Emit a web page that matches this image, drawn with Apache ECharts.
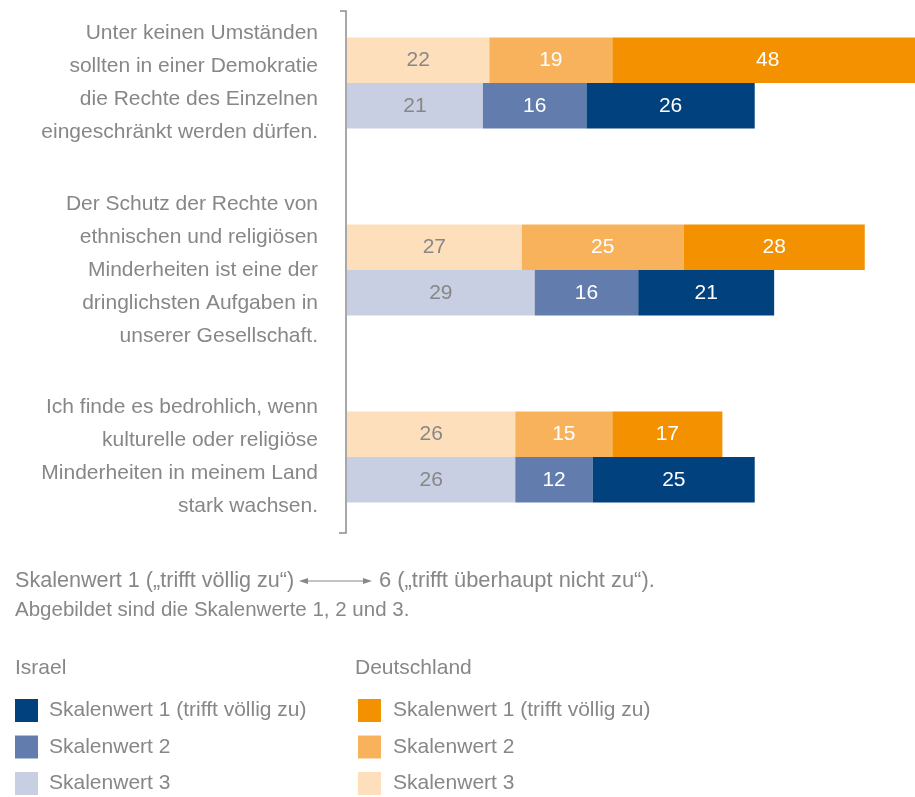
<!DOCTYPE html>
<html>
<head>
<meta charset="utf-8">
<script src="https://cdn.jsdelivr.net/npm/echarts@6/dist/echarts.min.js"></script>
<style>
  html, body { margin: 0; padding: 0; background: #fff; }
  #main { width: 915px; height: 797px; }
</style>
</head>
<body>
<div id="main"></div>
<script>
// statements (top to bottom)
const categories = [
  "Unter keinen Umständen\nsollten in einer Demokratie\ndie Rechte des Einzelnen\neingeschränkt werden dürfen.",
  "Der Schutz der Rechte von\nethnischen und religiösen\nMinderheiten ist eine der\ndringlichsten Aufgaben in\nunserer Gesellschaft.",
  "Ich finde es bedrohlich, wenn\nkulturelle oder religiöse\nMinderheiten in meinem Land\nstark wachsen."
];

// Deutschland
const deSkala1 = [48, 28, 17];
const deSkala2 = [19, 25, 15];
const deSkala3 = [22, 27, 26];
// Israel
const ilSkala1 = [26, 21, 25];
const ilSkala2 = [16, 16, 12];
const ilSkala3 = [21, 29, 26];

const skalaNames = ["Skalenwert 1 (trifft völlig zu)", "Skalenwert 2", "Skalenwert 3"];

const gray = "#878787";
const font = "Liberation Sans";

const deColors = ["#F39100", "#F8B25C", "#FDDFBC"];
const ilColors = ["#00417E", "#627CAE", "#C9CFE3"];

function makeSeries(country, stack, values, idx, colors) {
  return {
    name: country + ": " + skalaNames[idx],
    type: "bar",
    stack: stack,
    barWidth: 45.5,
    barGap: "0%",
    itemStyle: { color: colors[idx] },
    label: {
      show: true,
      position: "inside",
      color: idx === 2 ? gray : "#ffffff",
      fontFamily: font,
      fontSize: 21
    },
    emphasis: { disabled: true },
    data: values
  };
}

var myChart = echarts.init(document.getElementById("main"));

let option = {
  animation: false,
  grid: { left: 347, right: -8, top: -10.5, height: 561, outerBoundsMode: "none" },
  xAxis: {
    type: "value",
    min: 0,
    max: 89,
    show: false
  },
  yAxis: {
    type: "category",
    inverse: true,
    data: categories,
    axisLine: { show: false },
    axisTick: { show: false },
    axisLabel: {
      margin: 29,
      align: "right",
      color: gray,
      fontFamily: font,
      fontSize: 21,
      lineHeight: 33
    }
  },
  legend: [
    {
      orient: "vertical",
      left: 15,
      top: 699,
      padding: 0,
      itemWidth: 23,
      itemHeight: 23,
      itemGap: 13.5,
      icon: "rect",
      selectedMode: false,
      data: skalaNames.map(n => "Israel: " + n),
      formatter: n => n.split(": ")[1],
      textStyle: { color: gray, fontFamily: font, fontSize: 21, padding: [0, 0, 0, 6] }
    },
    {
      orient: "vertical",
      left: 358,
      top: 699,
      padding: 0,
      itemWidth: 23,
      itemHeight: 23,
      itemGap: 13.5,
      icon: "rect",
      selectedMode: false,
      data: skalaNames.map(n => "Deutschland: " + n),
      formatter: n => n.split(": ")[1],
      textStyle: { color: gray, fontFamily: font, fontSize: 21, padding: [0, 0, 0, 7] }
    }
  ],
  series: [
    makeSeries("Deutschland", "de", deSkala3, 2, deColors),
    makeSeries("Deutschland", "de", deSkala2, 1, deColors),
    makeSeries("Deutschland", "de", deSkala1, 0, deColors),
    makeSeries("Israel", "il", ilSkala3, 2, ilColors),
    makeSeries("Israel", "il", ilSkala2, 1, ilColors),
    makeSeries("Israel", "il", ilSkala1, 0, ilColors)
  ],
  graphic: [
    // axis bracket
    {
      type: "polyline",
      shape: { points: [[340, 11], [346, 11], [346, 533], [339, 533]] },
      style: { stroke: "#8c8c8c", lineWidth: 1.5, fill: null }
    },
    // footnote
    {
      type: "text", left: 15, top: 570,
      style: { text: "Skalenwert 1 (\u201Etrifft völlig zu\u201C)", fill: gray, font: "21.6px '" + font + "'" }
    },
    {
      type: "line",
      shape: { x1: 304, y1: 581, x2: 368, y2: 581 },
      style: { stroke: gray, lineWidth: 1 }
    },
    {
      type: "polygon",
      shape: { points: [[299, 581], [308, 578], [308, 584]] },
      style: { fill: gray }
    },
    {
      type: "polygon",
      shape: { points: [[372, 581], [363, 578], [363, 584]] },
      style: { fill: gray }
    },
    {
      type: "text", left: 379, top: 570,
      style: { text: "6 (\u201Etrifft überhaupt nicht zu\u201C).", fill: gray, font: "21.9px '" + font + "'" }
    },
    {
      type: "text", left: 15, top: 600,
      style: { text: "Abgebildet sind die Skalenwerte 1, 2 und 3.", fill: gray, font: "20.5px '" + font + "'" }
    },
    // legend titles
    {
      type: "text", left: 15, top: 658,
      style: { text: "Israel", fill: gray, font: "21px '" + font + "'" }
    },
    {
      type: "text", left: 355, top: 658,
      style: { text: "Deutschland", fill: gray, font: "21px '" + font + "'" }
    }
  ]
};

myChart.setOption(option);
</script>
</body>
</html>
